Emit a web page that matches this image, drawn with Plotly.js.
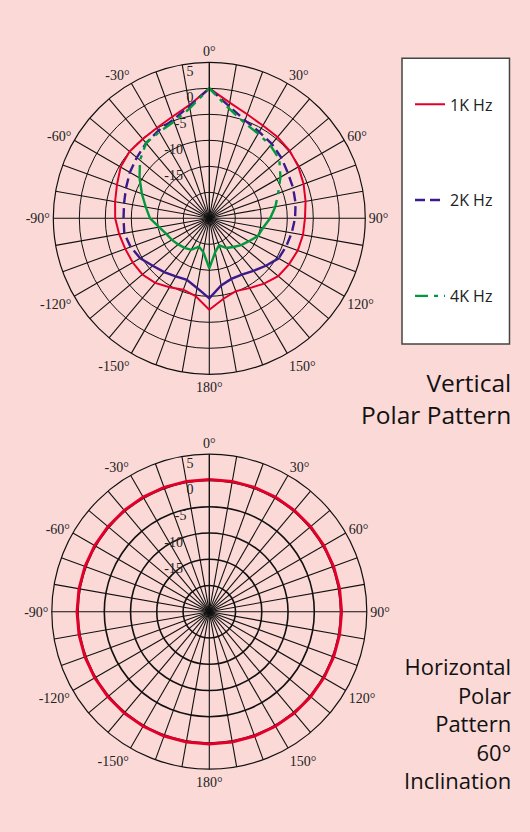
<!DOCTYPE html>
<html>
<head>
<meta charset="utf-8">
<script src="https://cdn.plot.ly/plotly-3.0.1.min.js"></script>
<style>
  html, body { margin: 0; padding: 0; background: #FBD9D7; }
  #chart { width: 530px; height: 832px; }
</style>
</head>
<body>
<div id="chart"></div>
<script>
// Angles (degrees, 0 = front, clockwise positive)
const angleDeg = [-180,-170,-160,-150,-140,-130,-120,-110,-100,-90,-80,-70,-60,-50,-40,-30,-20,-10,
                  0,10,20,30,40,50,60,70,80,90,100,110,120,130,140,150,160,170,180];

// Vertical polar pattern (dB)
const vert1k = [-7.4,-9.8,-10.4,-9.7,-8.8,-8.2,-8.0,-7.8,-7.4,-6.9,-6.6,-6.1,-5.3,-5.0,-5.1,-4.9,-4.2,-2.9,
                0,-2.4,-3.7,-4.4,-4.6,-4.8,-5.2,-5.7,-6.2,-6.6,-6.7,-6.9,-7.3,-7.7,-8.6,-9.5,-10.1,-9.3,-7.4];
const vert2k = [-9.6,-11.4,-12.4,-12.1,-11.5,-10.8,-9.65,-8.9,-8.4,-8.5,-8.35,-7.95,-7.35,-6.8,-6.1,-5.5,-4.8,-3.1,
                0,-3.1,-4.95,-5.8,-6.3,-6.9,-7.55,-7.85,-8.15,-8.5,-8.9,-9.25,-9.6,-10.8,-11.8,-12.5,-12.6,-11.9,-9.6];
const vert4k = [-15.4,-18.4,-19.2,-18.0,-17.6,-17.2,-16.7,-16.2,-15.2,-13.6,-12.6,-11.2,-9.5,-7.6,-6.1,-5.8,-5.2,-3.5,
                0,-3.5,-5.4,-6.2,-6.7,-7.4,-9.2,-10.9,-12.1,-13.3,-14.5,-15.05,-16.2,-17.0,-17.8,-18.4,-19.5,-18.4,-15.4];

// Horizontal polar pattern, 60° inclination (dB)
const horiz1k = [0.2,0.2,0.2,0.2,0.2,0.2,0.2,0.2,0.2,0.2,0.2,0.2,0.2,0.2,0.2,0.2,0.2,0.2,
                 0.2,0.2,0.2,0.2,0.2,0.2,0.2,0.2,0.2,0.2,0.2,0.2,0.2,0.2,0.2,0.2,0.2,0.2,0.2];

// Axis ticks
const angTickVals = [0,10,20,30,40,50,60,70,80,90,100,110,120,130,140,150,160,170,
                     180,190,200,210,220,230,240,250,260,270,280,290,300,310,320,330,340,350];
const angTickText = ['0°','','','30°','','','60°','','','90°','','','120°','','','150°','','',
                     '180°','','','-150°','','','-120°','','','-90°','','','-60°','','','-30°','',''];
const radTickVals = [-20,-15,-10,-5,0,5];
const radTickText = ['','-15','-10','-5','0','5'];

const seriesNames = ['1K Hz','2K Hz','4K Hz'];
const seriesColors = ['#E2002A','#3B1B8C','#009A3C'];

// radial labels sit just below their ring, to the left of the 0° line
const NB = '\u00a0';
const radPad = [0,6,6,5,3,3];
const radTickShown = radTickText.map((t, i) => t ? '<br>' + t + NB.repeat(radPad[i]) : '');

// split a closed series into the dashed front part [a,b] and the solid rear part
function part(vals, a, b, front) {
  const ia = angleDeg.indexOf(a), ib = angleDeg.indexOf(b);
  if (front) return {t: angleDeg.slice(ia, ib + 1), r: vals.slice(ia, ib + 1)};
  return {t: angleDeg.slice(ib).concat(angleDeg.slice(0, ia + 1)),
          r: vals.slice(ib).concat(vals.slice(0, ia + 1))};
}

const traces = [];
function addSeries(vals, idx, dash, a, b, width) {
  const f = part(vals, a, b, true), s = part(vals, a, b, false);
  traces.push({type:'scatterpolar', subplot:'polar', mode:'lines', theta:f.t, r:f.r,
    name:seriesNames[idx], legendgroup:'g'+idx, showlegend:true,
    line:{color:seriesColors[idx], width:width, dash:dash}, hoverinfo:'skip'});
  traces.push({type:'scatterpolar', subplot:'polar', mode:'lines', theta:s.t, r:s.r,
    name:seriesNames[idx], legendgroup:'g'+idx, showlegend:false,
    line:{color:seriesColors[idx], width:width, dash:'solid'}, hoverinfo:'skip'});
}
addSeries(vert1k, 0, 'solid', -180, 180, 2);
addSeries(vert2k, 1, '10px,5px', -120, 120, 2.4);
addSeries(vert4k, 2, '13px,6px,4px,6px', -60, 80, 2.4);

traces.push({type:'scatterpolar', subplot:'polar2', mode:'lines', theta:angleDeg, r:horiz1k,
  name:'1K Hz', showlegend:false, line:{color:'#E2002A', width:3}, hoverinfo:'skip'});

const serif = {family:'Liberation Serif, Times New Roman, serif', size:14, color:'#222'};

function polarAxes(domX, domY, ringWidth) {
  return {
    domain:{x:domX, y:domY},
    bgcolor:'rgba(0,0,0,0)',
    gridshape:'linear',
    angularaxis:{
      rotation:90, direction:'clockwise', thetaunit:'degrees',
      tickmode:'array', tickvals:angTickVals, ticktext:angTickText,
      ticks:'', showline:true, linecolor:'#111', linewidth:1.2,
      showgrid:true, gridcolor:'#111', gridwidth:1.1,
      tickfont:serif
    },
    radialaxis:{
      range:[-25,5], angle:90, side:'counterclockwise',
      tickmode:'array', tickvals:radTickVals, ticktext:radTickShown,
      ticks:'', showline:true, linecolor:'#111', linewidth:1,
      showgrid:true, gridcolor:'#111', gridwidth:ringWidth,
      tickfont:serif, tickangle:90
    }
  };
}

const layout = {
  width:530, height:832,
  margin:{l:0, r:0, t:0, b:0},
  paper_bgcolor:'#FBD9D7',
  plot_bgcolor:'#FBD9D7',
  showlegend:true,
  polar: polarAxes([0.1006,0.6892],[0.5501,0.9251],1),
  polar2: polarAxes([0.0977,0.6921],[0.0755,0.4541],1.6),
  legend:{
    x:0.7736, y:0.895, xanchor:'left', yanchor:'top',
    bgcolor:'rgba(0,0,0,0)', borderwidth:0,
    font:{family:'Open Sans, sans-serif', size:16, color:'#222'},
    tracegroupgap:72, itemwidth:30
  },
  shapes:[{type:'rect', xref:'paper', yref:'paper', x0:0.7585, x1:0.9613, y0:0.5865, y1:0.93,
           fillcolor:'#FFFFFF', line:{color:'#444', width:1.5}, layer:'below'}],
  annotations:[
    {xref:'paper', yref:'paper', x:0.968, y:0.5216, xanchor:'right', yanchor:'middle', align:'right',
     showarrow:false, text:'Vertical<br>Polar Pattern',
     font:{family:'Open Sans, sans-serif', size:24.5, color:'#111'}},
    {xref:'paper', yref:'paper', x:0.968, y:0.1306, xanchor:'right', yanchor:'middle', align:'right',
     showarrow:false, text:'Horizontal<br>Polar<br>Pattern<br>60°<br>Inclination',
     font:{family:'Open Sans, sans-serif', size:22, color:'#111'}}
  ]
};

Plotly.newPlot('chart', traces, layout, {displayModeBar:false, staticPlot:true});
</script>
</body>
</html>
